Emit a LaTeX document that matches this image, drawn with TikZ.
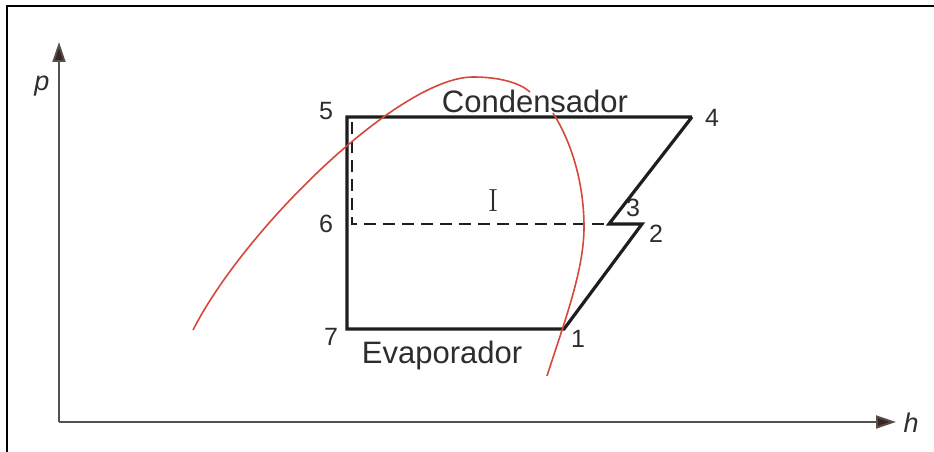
\documentclass[tikz,border=0pt]{standalone}
\usepackage{fontspec}
\setmainfont{Liberation Sans}
\newfontfamily\romfont{Latin Modern Roman}
\usetikzlibrary{arrows.meta}
\definecolor{dome}{RGB}{214,72,58}
\definecolor{axisgrey}{RGB}{85,80,78}
\definecolor{tipbrown}{RGB}{60,38,32}
\definecolor{ink}{RGB}{30,30,30}
\definecolor{txt}{RGB}{45,45,45}
\begin{document}
\begin{tikzpicture}[x=1pt,y=-1pt,
  cycleline/.style={draw=ink,line width=3.2pt,line join=miter},
  dashline/.style={draw=ink,line width=2.8pt,dash pattern=on 12pt off 7pt},
  axisline/.style={draw=axisgrey,line width=1.9pt,-{Triangle[length=20pt,width=13pt,fill=tipbrown]}},
  domeline/.style={draw=dome,line width=1.6pt},
  numlab/.style={text=txt,font=\fontsize{25}{27}\selectfont,inner sep=0pt},
  wordlab/.style={text=txt,font=\fontsize{31}{33}\selectfont,inner sep=0pt},
  axislab/.style={text=txt,font=\itshape\fontsize{27}{29}\selectfont,inner sep=0pt}]
\useasboundingbox (0,0) rectangle (934,452);
\fill[white] (0,0) rectangle (934,452);
% frame (top and left)
\draw[black,line width=2.4pt] (7,452) -- (7,6) -- (934,6);
% axes
\coordinate (O) at (59,422);
\coordinate (ytip) at (59,42);
\coordinate (xtip) at (896,422);
\draw[axisline] (O) -- (ytip);
\draw[axisline] (O) -- (xtip);
\node[axislab] (plab) at (42,86) {p};
\node[axislab] (hlab) at (911,423) {h};
% cycle points
\coordinate (p5) at (347,117);
\coordinate (p4) at (692,117);
\coordinate (p3) at (609,224);
\coordinate (p2) at (642,224);
\coordinate (p1) at (564,329);
\coordinate (p7) at (347,329);
\coordinate (p6) at (347,224);
\coordinate (d5) at (352,122);
\coordinate (d6) at (352,224);
% solid cycle
\draw[cycleline] (p4) -- (p5) -- (p6) -- (p7) -- (p1) -- (p2) -- (p3) -- (p4);
% dashed path
\draw[dashline] (d5) -- (d6) -- (p3);
% saturation dome
\coordinate (dA) at (193,330);
\coordinate (dTop) at (473,77);
\coordinate (dB) at (530,92);
\coordinate (dC) at (553,113);
\coordinate (dMid) at (584,227);
\coordinate (dD) at (547,376);
\draw[domeline] (dA) .. controls (245,228) and (400,77) .. (dTop)
                      .. controls (500,77) and (520,83) .. (dB);
\draw[domeline] (dC) .. controls (575,148) and (584,190) .. (dMid)
                     .. controls (584,270) and (565,320) .. (dD);
% labels
\node[numlab] (l5) at (326,111) {5};
\node[numlab] (l4) at (712,118) {4};
\node[numlab] (l6) at (326,224) {6};
\node[numlab] (l3) at (633,208) {3};
\node[numlab] (l2) at (656,234) {2};
\node[numlab] (l7) at (331,337) {7};
\node[numlab] (l1) at (578,339) {1};
\node[wordlab] (cond) at (535,101) {Condensador};
\node[wordlab] (evap) at (442,355) {Evaporador};
\node[text=txt,font=\romfont\fontsize{32}{34}\selectfont,inner sep=0pt] (rI) at (493,201) {I};
\end{tikzpicture}
\end{document}
